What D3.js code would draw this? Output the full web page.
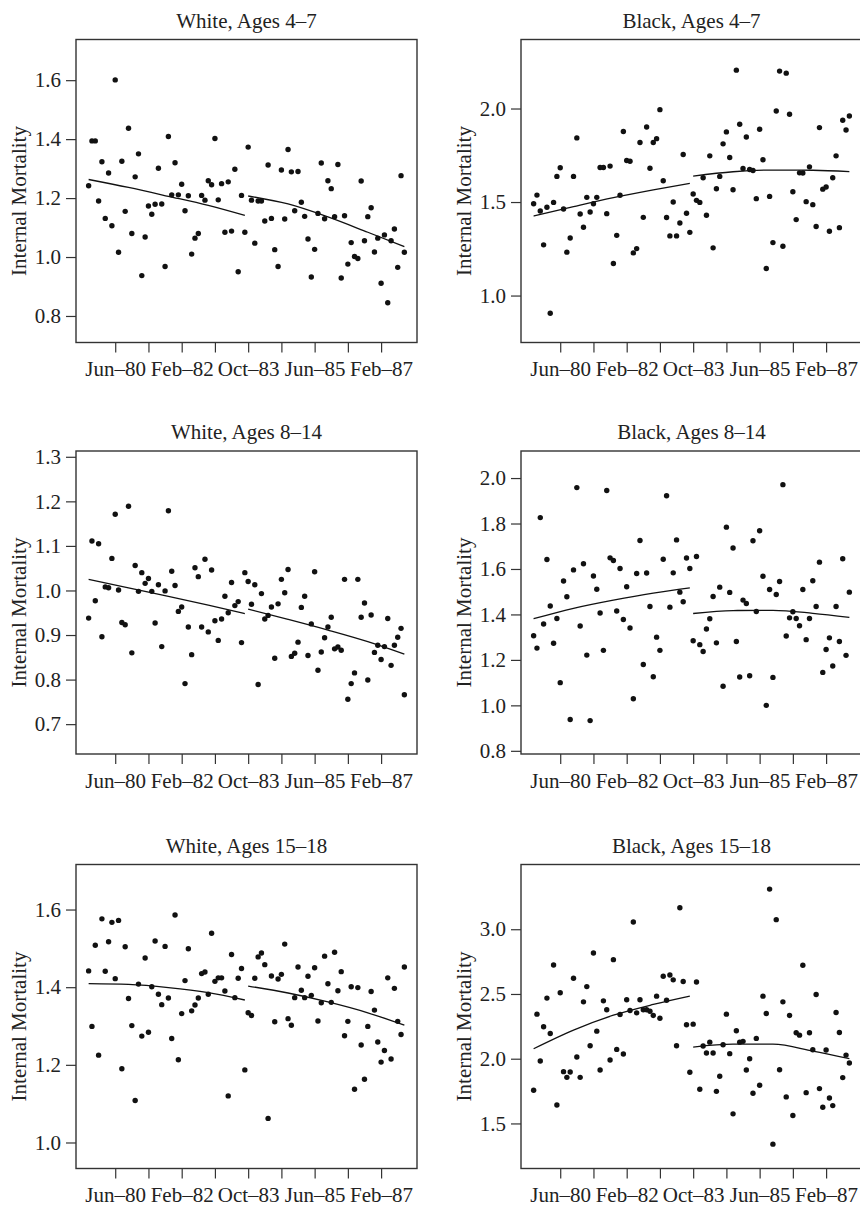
<!DOCTYPE html>
<html>
<head>
<meta charset="utf-8">
<script src="https://cdn.jsdelivr.net/npm/d3@7/dist/d3.min.js"></script>
<style>
  body { margin: 0; background: #fff; }
  svg { display: block; font-family: "Liberation Serif", "DejaVu Serif", serif; }
</style>
</head>
<body>
<svg id="chart" width="860" height="1206"></svg>
<script>
// monthly index 0..95 = Oct-79 .. Sep-87
const tickMonths = [8, 18, 28, 38, 48, 58, 68, 78, 88];
const tickLabels = ['Jun–80', '', 'Feb–82', '', 'Oct–83', '', 'Jun–85', '', 'Feb–87'];
const fitIdxBefore = [0, 12, 24, 36, 47];
const fitIdxAfter = [48, 60, 72, 84, 95];

const titles = ['White, Ages 4–7', 'Black, Ages 4–7', 'White, Ages 8–14', 'Black, Ages 8–14', 'White, Ages 15–18', 'Black, Ages 15–18'];
const yTicks = [
  [0.8, 1.0, 1.2, 1.4, 1.6],
  [1.0, 1.5, 2.0],
  [0.7, 0.8, 0.9, 1.0, 1.1, 1.2, 1.3],
  [0.8, 1.0, 1.2, 1.4, 1.6, 1.8, 2.0],
  [1.0, 1.2, 1.4, 1.6],
  [1.5, 2.0, 2.5, 3.0]
];
const yDomains = [[0.71, 1.738], [0.749, 2.369], [0.633, 1.313], [0.786, 2.119], [0.933, 1.716], [1.152, 3.5]];

const white4to7 = [1.242,1.394,1.394,1.19,1.323,1.131,1.285,1.106,1.601,1.016,
  1.325,1.155,1.437,1.080,1.272,1.350,0.937,1.068,1.173,1.145,
  1.179,1.301,1.180,0.968,1.409,1.211,1.320,1.211,1.247,1.157,
  1.208,1.010,1.064,1.080,1.209,1.193,1.259,1.245,1.402,1.194,
  1.249,1.084,1.255,1.088,1.298,0.950,1.209,1.084,1.373,1.193,
  1.047,1.19,1.19,1.122,1.312,1.131,1.025,0.968,1.295,1.129,
  1.365,1.289,1.157,1.290,1.186,1.138,1.061,0.932,1.026,1.148,
  1.319,1.130,1.259,1.232,1.137,1.314,0.929,1.140,0.976,1.049,
  1.002,0.995,1.258,1.055,1.137,1.167,1.017,1.064,0.911,1.075,
  0.845,1.055,1.095,0.965,1.276,1.016];
const black4to7 = [1.491,1.537,1.452,1.271,1.472,0.905,1.498,1.637,1.683,1.463,
  1.232,1.308,1.637,1.843,1.436,1.365,1.525,1.447,1.491,1.525,
  1.685,1.685,1.438,1.692,1.171,1.322,1.536,1.877,1.722,1.718,
  1.228,1.251,1.818,1.418,1.901,1.681,1.818,1.839,1.994,1.614,
  1.417,1.319,1.500,1.319,1.388,1.754,1.440,1.338,1.543,1.509,
  1.498,1.630,1.429,1.747,1.255,1.571,1.637,1.811,1.875,1.738,
  1.566,2.205,1.916,1.679,1.848,1.674,1.669,1.518,1.889,1.726,
  1.145,1.530,1.283,1.987,2.200,1.264,2.189,1.969,1.555,1.406,
  1.656,1.655,1.502,1.688,1.486,1.369,1.898,1.569,1.580,1.344,
  1.630,1.747,1.363,1.937,1.885,1.960];
const white8to14 = [0.938,1.111,0.977,1.105,0.896,1.008,1.006,1.072,1.171,1.001,
  0.928,0.923,1.189,0.860,1.056,0.998,1.040,1.016,1.027,0.998,
  0.927,1.013,0.874,0.999,1.179,1.043,1.011,0.953,0.963,0.791,
  0.918,0.856,1.051,1.031,0.918,1.070,0.907,1.046,0.932,0.888,
  0.936,0.987,0.950,1.018,0.966,0.975,0.883,1.040,1.020,0.969,
  1.013,0.789,0.993,0.936,0.944,0.963,0.848,0.970,1.025,0.995,
  1.047,0.852,0.859,0.884,0.962,0.987,0.854,0.925,1.042,0.821,
  0.862,0.894,0.918,0.940,0.869,0.873,0.866,1.025,0.756,0.791,
  0.815,1.025,0.940,0.972,0.799,0.945,0.861,0.877,0.845,0.874,
  0.937,0.832,0.877,0.895,0.915,0.766];
const black8to14 = [1.306,1.252,1.826,1.358,1.642,1.437,1.273,1.382,1.100,1.547,
  1.478,0.938,1.596,1.958,1.349,1.623,1.221,0.933,1.569,1.511,
  1.406,1.242,1.945,1.649,1.637,1.415,1.602,1.378,1.522,1.340,
  1.029,1.580,1.725,1.180,1.582,1.435,1.126,1.300,1.242,1.643,
  1.922,1.432,1.583,1.728,1.498,1.456,1.648,1.602,1.284,1.655,
  1.267,1.237,1.336,1.381,1.479,1.275,1.520,1.084,1.784,1.497,
  1.692,1.281,1.125,1.463,1.448,1.130,1.724,1.413,1.768,1.568,
  1.000,1.510,1.123,1.488,1.545,1.971,1.305,1.385,1.412,1.382,
  1.350,1.510,1.289,1.382,1.548,1.435,1.630,1.145,1.246,1.297,
  1.173,1.435,1.281,1.645,1.220,1.498];
const white15to18 = [1.442,1.299,1.508,1.225,1.576,1.441,1.517,1.567,1.422,1.572,
  1.190,1.504,1.371,1.301,1.108,1.408,1.274,1.475,1.284,1.401,
  1.519,1.382,1.355,1.505,1.372,1.268,1.586,1.213,1.332,1.417,
  1.499,1.339,1.354,1.372,1.435,1.439,1.382,1.539,1.415,1.424,
  1.424,1.390,1.120,1.484,1.373,1.423,1.448,1.187,1.334,1.327,
  1.423,1.478,1.488,1.458,1.062,1.429,1.311,1.421,1.433,1.511,
  1.319,1.302,1.373,1.452,1.392,1.373,1.428,1.379,1.450,1.313,
  1.360,1.480,1.409,1.361,1.490,1.391,1.440,1.275,1.312,1.401,
  1.137,1.399,1.251,1.163,1.299,1.389,1.341,1.259,1.207,1.237,
  1.424,1.215,1.397,1.312,1.278,1.452];
const black15to18 = [1.756,2.344,1.982,2.247,2.468,2.195,2.724,1.643,2.509,1.900,
  1.856,1.897,2.622,2.013,1.856,2.439,2.557,2.100,2.817,2.213,
  1.913,2.447,2.378,1.990,2.765,2.072,2.342,2.036,2.455,2.372,
  3.056,2.354,2.455,2.378,2.378,2.367,2.334,2.483,2.313,2.637,
  2.452,2.647,2.609,2.100,3.166,2.596,2.262,1.895,2.267,2.593,
  1.764,2.098,2.044,2.128,2.044,1.748,1.864,2.108,2.344,2.039,
  1.574,2.216,2.128,2.134,1.913,2.000,1.733,2.157,1.795,2.483,
  2.349,3.310,1.340,3.074,1.915,2.439,1.705,2.334,1.561,2.200,
  2.182,2.722,1.738,2.200,2.069,2.496,1.769,1.625,2.067,1.697,
  1.638,2.357,2.203,1.854,2.028,1.967];

// fitted curves, read at fitIdxBefore / fitIdxAfter
const fitsBefore = [
  [1.263, 1.236, 1.206, 1.175, 1.141],
  [1.425, 1.475, 1.523, 1.565, 1.600],
  [1.025, 1.006, 0.987, 0.967, 0.948],
  [1.381, 1.427, 1.463, 1.494, 1.517],
  [1.409, 1.407, 1.399, 1.386, 1.367],
  [2.077, 2.221, 2.336, 2.419, 2.483]
];
const fitsAfter = [
  [1.207, 1.180, 1.136, 1.084, 1.035],
  [1.639, 1.662, 1.671, 1.670, 1.663],
  [0.958, 0.935, 0.911, 0.885, 0.857],
  [1.404, 1.417, 1.418, 1.405, 1.387],
  [1.403, 1.385, 1.362, 1.334, 1.302],
  [2.090, 2.112, 2.112, 2.059, 2.000]
];
const series = [white4to7, black4to7, white8to14, black8to14, white15to18, black15to18];

const svg = d3.select('#chart');
const cols = [{ left: 76, right: 417 }, { left: 521, right: 862 }];
const rows = [{ top: 39.5, bottom: 342.5 }, { top: 451, bottom: 754 }, { top: 864.5, bottom: 1168.5 }];
const ink = '#222';

series.forEach((values, k) => {
  const c = cols[k % 2];
  const r = rows[Math.floor(k / 2)];
  const x = d3.scaleLinear().domain([-3.8, 98.8]).range([c.left, c.right]);
  const y = d3.scaleLinear().domain(yDomains[k]).range([r.bottom, r.top]);
  const g = svg.append('g').attr('class', 'panel');

  g.append('text')
    .attr('x', (c.left + c.right) / 2)
    .attr('y', r.top - 12)
    .attr('text-anchor', 'middle')
    .attr('font-size', 21)
    .attr('fill', ink)
    .text(titles[k]);

  // x axis
  g.append('g')
    .attr('transform', `translate(0,${r.bottom})`)
    .call(d3.axisBottom(x).tickValues(tickMonths).tickSize(10).tickPadding(9)
      .tickFormat((d, i) => tickLabels[i]))
    .call(a => a.select('.domain').remove())
    .call(a => a.selectAll('line').attr('stroke', '#333').attr('stroke-width', 1.2))
    .call(a => a.selectAll('text').attr('font-size', 21).attr('fill', ink)
      .attr('font-family', '"Liberation Serif", serif'));

  // y axis
  g.append('g')
    .attr('transform', `translate(${c.left},0)`)
    .call(d3.axisLeft(y).tickValues(yTicks[k]).tickSize(10).tickPadding(5)
      .tickFormat(d3.format('.1f')))
    .call(a => a.select('.domain').remove())
    .call(a => a.selectAll('line').attr('stroke', '#333').attr('stroke-width', 1.2))
    .call(a => a.selectAll('text').attr('font-size', 21).attr('fill', ink)
      .attr('font-family', '"Liberation Serif", serif'));

  g.append('text')
    .attr('transform', `translate(${c.left - 50},${(r.top + r.bottom) / 2 + 10}) rotate(-90)`)
    .attr('text-anchor', 'middle')
    .attr('font-size', 21)
    .attr('fill', ink)
    .text('Internal Mortality');

  // box
  g.append('rect')
    .attr('x', c.left).attr('y', r.top)
    .attr('width', c.right - c.left).attr('height', r.bottom - r.top)
    .attr('fill', 'none').attr('stroke', '#333').attr('stroke-width', 1.4);

  // points
  g.append('g')
    .selectAll('circle')
    .data(values)
    .join('circle')
    .attr('cx', (d, i) => x(i))
    .attr('cy', d => y(d))
    .attr('r', 2.7)
    .attr('fill', '#111');

  // fitted curves before / after Oct-83
  const line = d3.line().x(d => x(d[0])).y(d => y(d[1])).curve(d3.curveMonotoneX);
  [[fitIdxBefore, fitsBefore[k]], [fitIdxAfter, fitsAfter[k]]].forEach(([idx, v]) => {
    g.append('path')
      .attr('d', line(idx.map((m, i) => [m, v[i]])))
      .attr('fill', 'none')
      .attr('stroke', '#111')
      .attr('stroke-width', 1.3);
  });
});
</script>
</body>
</html>
